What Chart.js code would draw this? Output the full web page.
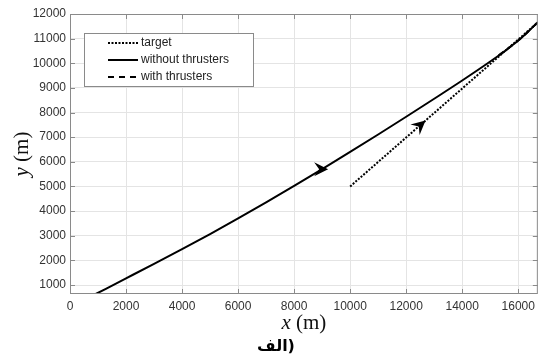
<!DOCTYPE html>
<html>
<head>
<meta charset="utf-8">
<script src="https://cdn.jsdelivr.net/npm/chart.js@4"></script>
<style>
  body { margin: 0; background: #fff; }
</style>
</head>
<body>
<canvas id="traj" width="540" height="360"></canvas>
<script>
// target path (dotted)
var targetX = [10000, 16700];
var targetY = [5000, 11660];

// pursuer without thrusters (solid)
var freeX = [920, 2000, 3000, 4000, 5000, 6000, 7000, 8000, 9000, 10000, 11000, 12000, 13000, 14000, 15000, 15500, 16000, 16350, 16700];
var freeY = [635, 1270, 1860, 2460, 3070, 3700, 4350, 5020, 5700, 6400, 7110, 7830, 8560, 9300, 10070, 10480, 10920, 11280, 11670];

// pursuer with thrusters (dashed, sits on the solid curve near the end)
var thrustX = [15300, 15700, 16000, 16350, 16700];
var thrustY = [10320, 10650, 10920, 11280, 11670];

// direction arrows: x position and which series they sit on
var arrowX = [9000, 12530];
var arrowSeries = [1, 0];

var xTicks = [0, 2000, 4000, 6000, 8000, 10000, 12000, 14000, 16000];
var yTicks = [1000, 2000, 3000, 4000, 5000, 6000, 7000, 8000, 9000, 10000, 11000, 12000];

function pts(xs, ys) {
    var out = [];
    for (var i = 0; i < xs.length; i++) out.push({x: xs[i], y: ys[i]});
    return out;
}

function keepTicks(list) {
    return function (scale) {
        scale.ticks = list.map(function (v) { return {value: v}; });
    };
}

function plainLabel(v) { return String(v); }

var legendDash = [[2, 1.5], [], [6, 5]];
var serif = '"Liberation Serif", "DejaVu Serif", serif';

function axisTitle(ctx, letter, x, y) {
    ctx.font = 'italic 21px ' + serif;
    var w1 = ctx.measureText(letter).width;
    ctx.font = '21px ' + serif;
    var w2 = ctx.measureText(' (m)').width;
    var sx = x - (w1 + w2) / 2;
    ctx.font = 'italic 21px ' + serif;
    ctx.fillText(letter, sx, y);
    ctx.font = '21px ' + serif;
    ctx.fillText(' (m)', sx + w1, y);
}

var boxPlugin = {
    id: 'matlabBox',
    afterDatasetsDraw: function (chart) {
        var ctx = chart.ctx;
        var a = chart.chartArea;
        var xs = chart.scales.x, ys = chart.scales.y;
        ctx.save();

        // arrows
        for (var k = 0; k < arrowX.length; k++) {
            var d = chart.data.datasets[arrowSeries[k]].data;
            var ax = arrowX[k], ay = null, bx, by;
            for (var i = 0; i < d.length - 1; i++) {
                if (ax >= d[i].x && ax <= d[i + 1].x) {
                    var t = (ax - d[i].x) / (d[i + 1].x - d[i].x);
                    ay = d[i].y + t * (d[i + 1].y - d[i].y);
                    bx = d[i + 1].x; by = d[i + 1].y;
                    break;
                }
            }
            if (ay === null) continue;
            var px = xs.getPixelForValue(ax), py = ys.getPixelForValue(ay);
            var ang = Math.atan2(ys.getPixelForValue(by) - py, xs.getPixelForValue(bx) - px);
            ctx.save();
            ctx.translate(px, py);
            ctx.rotate(ang);
            ctx.beginPath();
            ctx.moveTo(6, 0);
            ctx.lineTo(-8, -7);
            ctx.lineTo(-3, 0);
            ctx.lineTo(-8, 7);
            ctx.closePath();
            ctx.fillStyle = '#000';
            ctx.fill();
            ctx.restore();
        }

        // axes box with inward ticks
        ctx.strokeStyle = '#8a8a8a';
        ctx.lineWidth = 1;
        ctx.strokeRect(a.left + 0.5, a.top + 0.5, a.right - a.left - 1, a.bottom - a.top - 1);
        ctx.beginPath();
        xTicks.forEach(function (v) {
            var x = Math.round(xs.getPixelForValue(v)) + 0.5;
            ctx.moveTo(x, a.bottom); ctx.lineTo(x, a.bottom - 5);
            ctx.moveTo(x, a.top); ctx.lineTo(x, a.top + 5);
        });
        yTicks.forEach(function (v) {
            var y = Math.round(ys.getPixelForValue(v)) + 0.5;
            ctx.moveTo(a.left, y); ctx.lineTo(a.left + 5, y);
            ctx.moveTo(a.right, y); ctx.lineTo(a.right - 5, y);
        });
        ctx.stroke();

        // legend box
        var lx = 84, ly = 33, lw = 169, lh = 53;
        ctx.fillStyle = '#fff';
        ctx.fillRect(lx, ly, lw, lh);
        ctx.strokeStyle = '#8a8a8a';
        ctx.strokeRect(lx + 0.5, ly + 0.5, lw, lh);
        ctx.font = '12px "Liberation Sans", Arial, sans-serif';
        ctx.textBaseline = 'middle';
        ctx.textAlign = 'left';
        chart.data.datasets.forEach(function (ds, i) {
            var yy = ly + 10 + i * 17;
            ctx.strokeStyle = '#000';
            ctx.lineWidth = 2;
            ctx.setLineDash(legendDash[i]);
            ctx.beginPath();
            ctx.moveTo(108, yy); ctx.lineTo(138, yy);
            ctx.stroke();
            ctx.setLineDash([]);
            ctx.fillStyle = '#222';
            ctx.fillText(ds.label, 141, yy);
        });

        // axis titles
        ctx.fillStyle = '#111';
        ctx.textBaseline = 'middle';
        axisTitle(ctx, 'x', (a.left + a.right) / 2, 323);
        ctx.save();
        ctx.translate(22, (a.top + a.bottom) / 2);
        ctx.rotate(-Math.PI / 2);
        axisTitle(ctx, 'y', 0, 0);
        ctx.restore();

        // caption
        ctx.font = 'bold 16px "DejaVu Sans", "Noto Sans", sans-serif';
        ctx.textAlign = 'center';
        ctx.fillStyle = '#000';
        ctx.fillText('الف)', 276, 347);
        ctx.restore();
    }
};

new Chart(document.getElementById('traj'), {
    type: 'scatter',
    data: {
        datasets: [{
            label: 'target',
            data: pts(targetX, targetY),
            showLine: true,
            borderColor: '#000',
            borderWidth: 2,
            borderDash: [2, 1.5],
            pointRadius: 0
        }, {
            label: 'without thrusters',
            data: pts(freeX, freeY),
            showLine: true,
            borderColor: '#000',
            borderWidth: 2,
            cubicInterpolationMode: 'monotone',
            pointRadius: 0
        }, {
            label: 'with thrusters',
            data: pts(thrustX, thrustY),
            showLine: true,
            borderColor: '#000',
            borderWidth: 2,
            borderDash: [6, 5],
            pointRadius: 0
        }]
    },
    options: {
        responsive: false,
        animation: false,
        layout: {padding: {top: 14, right: 2, left: 0, bottom: 0}},
        plugins: {legend: {display: false}, tooltip: {enabled: false}},
        scales: {
            x: {
                type: 'linear',
                min: 0,
                max: 16700,
                afterBuildTicks: keepTicks(xTicks),
                afterFit: function (s) { s.height = 66; },
                grid: {color: '#e4e4e4', drawTicks: false},
                border: {display: false},
                ticks: {
                    padding: 5,
                    color: '#333',
                    font: {family: '"Liberation Sans", Arial, sans-serif', size: 12},
                    maxRotation: 0,
                    autoSkip: false,
                    callback: plainLabel
                }
            },
            y: {
                type: 'linear',
                min: 635,
                max: 12000,
                afterBuildTicks: keepTicks(yTicks),
                afterFit: function (s) { s.width = 70; },
                grid: {color: '#e4e4e4', drawTicks: false},
                border: {display: false},
                ticks: {
                    padding: 4,
                    color: '#333',
                    font: {family: '"Liberation Sans", Arial, sans-serif', size: 12},
                    autoSkip: false,
                    callback: plainLabel
                }
            }
        }
    },
    plugins: [boxPlugin]
});
</script>
</body>
</html>
